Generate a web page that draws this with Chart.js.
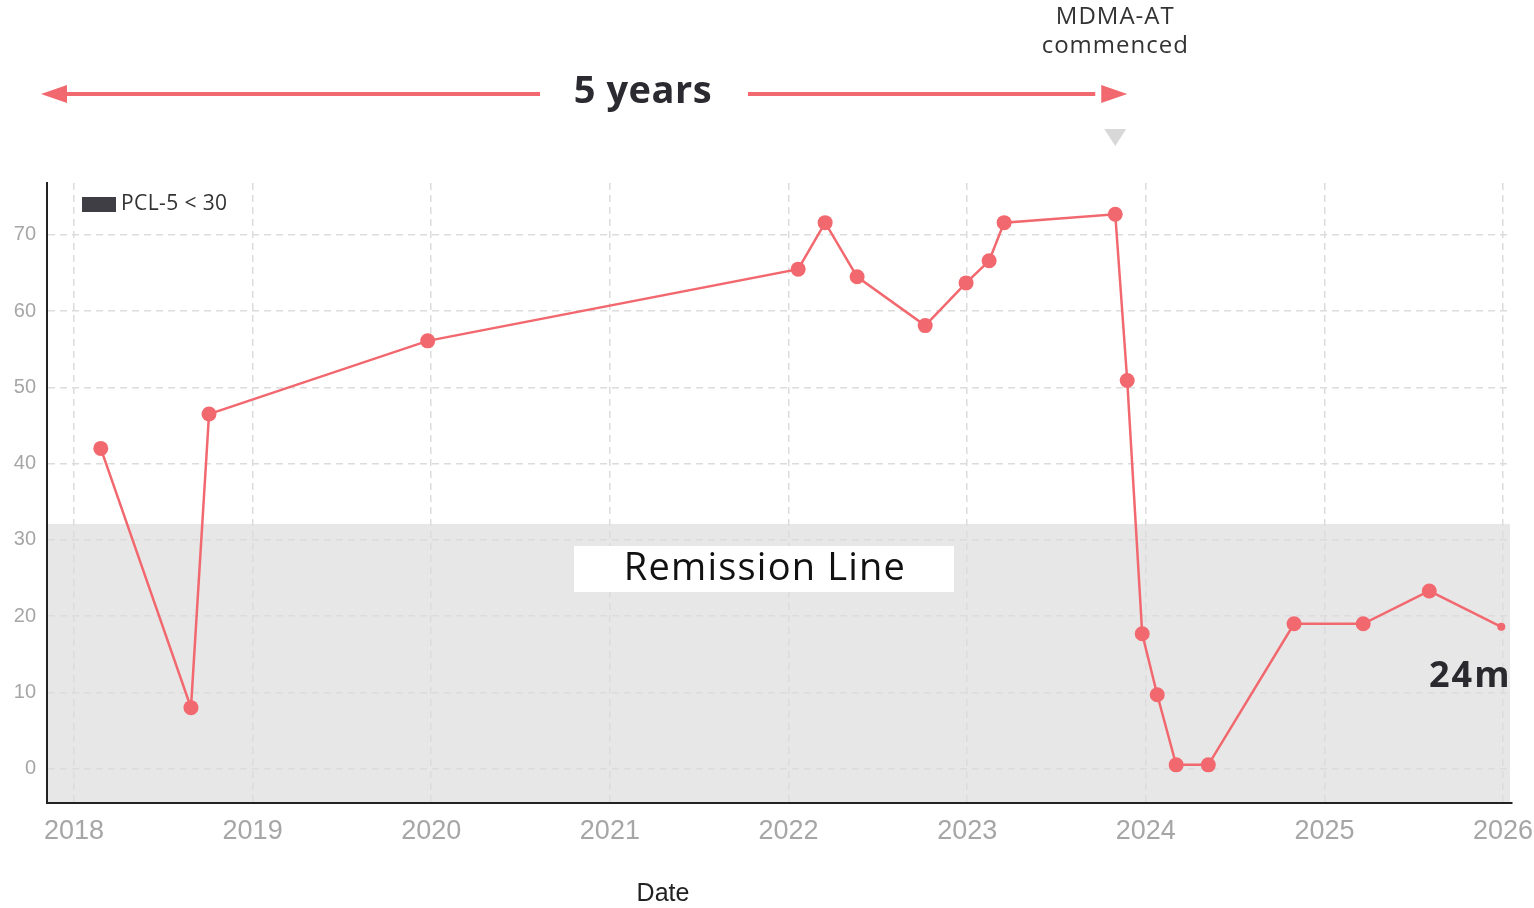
<!DOCTYPE html>
<html>
<head>
<meta charset="utf-8">
<script src="https://cdn.jsdelivr.net/npm/chart.js@4"></script>
<style>
  html, body { margin: 0; padding: 0; background: #fff; }
  #wrap { width: 1534px; height: 908px; position: relative; }
</style>
</head>
<body>
<div id="wrap"><canvas id="pcl"></canvas></div>
<script>
// assessment dates (decimal years) and PCL-5 scores
const dates = [2018.15, 2018.655, 2018.756, 2019.98, 2022.054, 2022.205, 2022.384, 2022.765,
  2022.994, 2023.123, 2023.207, 2023.829, 2023.896, 2023.98, 2024.064, 2024.17, 2024.35,
  2024.83, 2025.217, 2025.587, 2025.99];
const scores = [42, 8, 46.5, 56.1, 65.5, 71.6, 64.5, 58.1, 63.7, 66.6, 71.6, 72.7, 50.9,
  17.7, 9.7, 0.5, 0.5, 19, 19, 23.3, 18.6];
const yearTicks = [2018, 2019, 2020, 2021, 2022, 2023, 2024, 2025, 2026];
const scoreTicks = [0, 10, 20, 30, 40, 50, 60, 70];
const remissionTop = 32.1; // shaded band drawn up to here
const mdmaStart = 2023.829;

const red = '#f2686f';
const geo = '"Open Sans", "Noto Sans", sans-serif';
const arial = '"Liberation Sans", Arial, sans-serif';

function spaced(ctx, px) {
  if ('letterSpacing' in ctx) ctx.letterSpacing = px + 'px';
}

// grey band + label behind the line
const bandPlugin = {
  id: 'band',
  beforeDraw(chart) {
    const { ctx, chartArea, scales: { y } } = chart;
    ctx.save();
    ctx.fillStyle = '#e7e7e7';
    const top = y.getPixelForValue(remissionTop);
    ctx.fillRect(chartArea.left, top, chartArea.right - chartArea.left - 2, chartArea.bottom - top);
    ctx.restore();
  },
  beforeDatasetsDraw(chart) {
    const { ctx } = chart;
    ctx.save();
    ctx.fillStyle = '#fff';
    ctx.fillRect(574, 546, 380, 46);
    ctx.fillStyle = '#111';
    ctx.font = '38px ' + geo;
    spaced(ctx, 1.2);
    ctx.textAlign = 'center';
    ctx.textBaseline = 'middle';
    ctx.fillText('Remission Line', 765, 569);
    ctx.restore();
  }
};

// arrows, labels, legend swatch
const notesPlugin = {
  id: 'notes',
  afterDraw(chart) {
    const { ctx, scales: { x } } = chart;
    const mx = x.getPixelForValue(mdmaStart);
    ctx.save();

    // 5 years arrow
    ctx.strokeStyle = red;
    ctx.fillStyle = red;
    ctx.lineWidth = 4;
    ctx.beginPath();
    ctx.moveTo(60, 94); ctx.lineTo(540, 94);
    ctx.moveTo(748, 94); ctx.lineTo(mx - 20, 94);
    ctx.stroke();
    ctx.beginPath();
    ctx.moveTo(41, 94); ctx.lineTo(67, 85); ctx.lineTo(67, 103); ctx.closePath();
    ctx.fill();
    ctx.beginPath();
    ctx.moveTo(mx + 12, 94); ctx.lineTo(mx - 14, 85); ctx.lineTo(mx - 14, 103); ctx.closePath();
    ctx.fill();

    ctx.fillStyle = '#2b2a30';
    ctx.font = 'bold 38px ' + geo;
    spaced(ctx, 0.5);
    ctx.textAlign = 'center';
    ctx.textBaseline = 'middle';
    ctx.fillText('5 years', 643, 92);

    // MDMA marker
    ctx.fillStyle = '#333';
    ctx.font = '24px ' + geo;
    spaced(ctx, 1);
    ctx.fillText('MDMA-AT', mx, 17);
    ctx.fillText('commenced', mx, 46);
    ctx.fillStyle = '#d8d8d8';
    ctx.beginPath();
    ctx.moveTo(mx - 11, 129); ctx.lineTo(mx + 11, 129); ctx.lineTo(mx, 146); ctx.closePath();
    ctx.fill();

    // 24m
    ctx.fillStyle = '#2a2a2e';
    ctx.font = 'bold 36px ' + geo;
    spaced(ctx, 2);
    ctx.textAlign = 'left';
    ctx.fillText('24m', 1429, 677);

    // legend
    ctx.fillStyle = '#3f3e44';
    ctx.fillRect(82, 197, 34, 15);
    ctx.fillStyle = '#333';
    ctx.font = '21px ' + geo;
    spaced(ctx, 0.4);
    ctx.fillText('PCL-5 < 30', 121, 204);

    // axis title
    spaced(ctx, 0);
    ctx.fillStyle = '#222';
    ctx.font = '25px ' + arial;
    ctx.textAlign = 'center';
    ctx.fillText('Date', 663, 894);
    ctx.restore();
  }
};

new Chart(document.getElementById('pcl'), {
  type: 'line',
  data: {
    datasets: [{
      label: 'PCL-5',
      data: dates.map((d, i) => ({ x: d, y: scores[i] })),
      borderColor: red,
      borderWidth: 2.5,
      backgroundColor: red,
      pointBackgroundColor: red,
      pointBorderWidth: 0,
      pointRadius: dates.map((d, i) => i === dates.length - 1 ? 4 : 7.5),
      tension: 0
    }]
  },
  options: {
    responsive: true,
    maintainAspectRatio: false,
    animation: false,
    layout: { padding: { top: 183, right: 22, left: 0, bottom: 0 } },
    plugins: {
      legend: { display: false },
      tooltip: { enabled: false }
    },
    scales: {
      x: {
        type: 'linear',
        min: 2017.849,
        max: 2026.05,
        afterBuildTicks: (s) => { s.ticks = yearTicks.map(v => ({ value: v })); },
        afterFit: (s) => { s.height = 105; s.paddingRight = 0; s.paddingLeft = 0; },
        ticks: {
          padding: 12,
          color: '#a6a6a6',
          font: { size: 27, family: arial },
          callback: (v) => String(v)
        },
        grid: { color: '#dcdcdc', drawTicks: false, lineWidth: 1.5 },
        border: { display: true, color: '#222', width: 2, dash: [7, 5] }
      },
      y: {
        min: -4.5,
        max: 76.8,
        afterBuildTicks: (s) => { s.ticks = scoreTicks.map(v => ({ value: v })); },
        afterFit: (s) => { s.width = 47; s.paddingTop = 0; s.paddingBottom = 0; },
        ticks: {
          padding: 11,
          color: '#a6a6a6',
          font: { size: 20, family: arial }
        },
        grid: { color: '#dcdcdc', drawTicks: false, lineWidth: 1.5 },
        border: { display: true, color: '#222', width: 2, dash: [7, 5] }
      }
    }
  },
  plugins: [bandPlugin, notesPlugin]
});
</script>
</body>
</html>
